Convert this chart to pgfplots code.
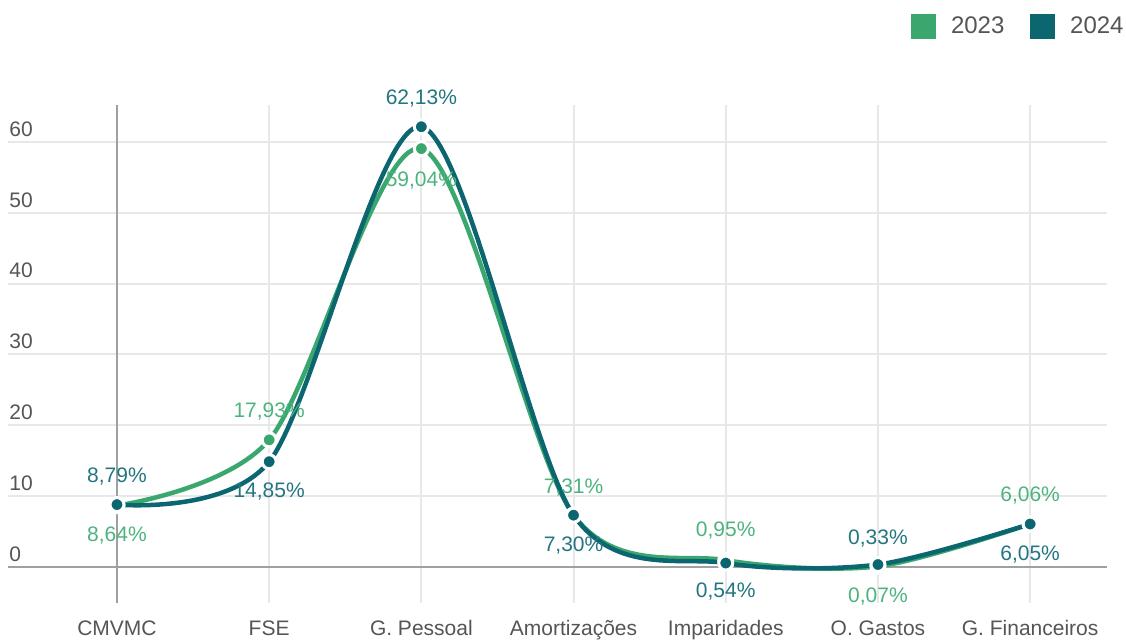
\documentclass[border=0pt]{standalone}
\usepackage{pgfplots}
\pgfplotsset{compat=1.18}
\usepackage{pgfplotstable}
\usepackage{fontspec}
\setmainfont{Liberation Sans}

\definecolor{green23}{HTML}{3AA86E}
\definecolor{teal24}{HTML}{0B6670}
\definecolor{lab23}{HTML}{4DB37E}
\definecolor{lab24}{HTML}{237680}
\definecolor{gridgray}{HTML}{E8E8E8}
\definecolor{axisgray}{HTML}{A0A0A0}
\definecolor{textgray}{HTML}{555555}

% x: category index, y: share in %, lab: printed value, dy: label offset (pt)
\pgfplotstableread{
x y lab dy
0 8.64 8,64 -15
1 17.93 17,93 14
2 59.04 59,04 -16
3 7.31 7,31 14
4 0.95 0,95 15
5 0.07 0,07 -15
6 6.06 6,06 14
}\dataA

\pgfplotstableread{
x y lab dy
0 8.79 8,79 14
1 14.85 14,85 -15
2 62.13 62,13 14
3 7.30 7,30 -15
4 0.54 0,54 -14
5 0.33 0,33 13
6 6.05 6,05 -15
}\dataB

\begin{document}
\begin{tikzpicture}[x=1pt,y=1pt]
\path[use as bounding box] (-4,-18) rectangle (559,301.5);
\begin{axis}[
  at={(0,0)}, anchor=south west, scale only axis,
  width=549.5pt, height=249pt,
  xmin=-0.716, xmax=6.505, ymin=-5.1, ymax=65.2,
  axis line style={draw=none},
  major tick length=0pt,
  xtick={0,...,6},
  xticklabels={CMVMC,FSE,G. Pessoal,Amortizações,Imparidades,O. Gastos,G. Financeiros},
  ytick={0,10,...,60},
  xmajorgrids, ymajorgrids,
  major grid style={gridgray, line width=1pt},
  /pgf/number format/assume math mode=true,
  tick label style={font=\fontsize{10.5}{12}\selectfont, text=textgray},
  yticklabel style={anchor=south west, inner sep=0pt, xshift=0.5pt, yshift=2.5pt},
  xticklabel style={anchor=base, inner sep=0pt, yshift=-16pt},
  legend style={at={(1.0191,1.18675)}, anchor=north east, draw=none, fill=none,
    inner sep=0pt, font=\fontsize{12}{14}\selectfont, text=textgray,
    /tikz/every even column/.append style={column sep=11pt}},
  legend columns=2,
  legend cell align=left,
  clip=false,
]
% baseline and first category line
\draw[axisgray, line width=1pt] (axis cs:-0.716,0) -- (axis cs:6.505,0);
\draw[axisgray, line width=1pt] (axis cs:0,-5.1) -- (axis cs:0,65.2);

\addlegendimage{legend image code/.code={\fill[green23] (0pt,-6pt) rectangle (12pt,6pt); \path (17.5pt,0pt);}}
\addlegendentry{2023}
\addlegendimage{legend image code/.code={\fill[teal24] (0pt,-6pt) rectangle (12pt,6pt); \path (17.5pt,0pt);}}
\addlegendentry{2024}

\addplot[forget plot, green23, line width=2.25pt, smooth,
  mark=*, mark size=3.5pt, mark options={fill=green23, draw=white, line width=1.5pt},
  point meta=explicit symbolic,
  visualization depends on={\thisrow{dy} \as \labdy},
  nodes near coords={\pgfplotspointmeta\%},
  every node near coord/.append style={font=\fontsize{10.5}{12}\selectfont, text=lab23,
    anchor=center, inner sep=0pt, yshift=\labdy pt}]
  table[x=x, y=y, meta=lab] {\dataA};

\addplot[forget plot, teal24, line width=2.25pt, smooth,
  mark=*, mark size=3.5pt, mark options={fill=teal24, draw=white, line width=1.5pt},
  point meta=explicit symbolic,
  visualization depends on={\thisrow{dy} \as \labdy},
  nodes near coords={\pgfplotspointmeta\%},
  every node near coord/.append style={font=\fontsize{10.5}{12}\selectfont, text=lab24,
    anchor=center, inner sep=0pt, yshift=\labdy pt}]
  table[x=x, y=y, meta=lab] {\dataB};
\end{axis}
\end{tikzpicture}
\end{document}
